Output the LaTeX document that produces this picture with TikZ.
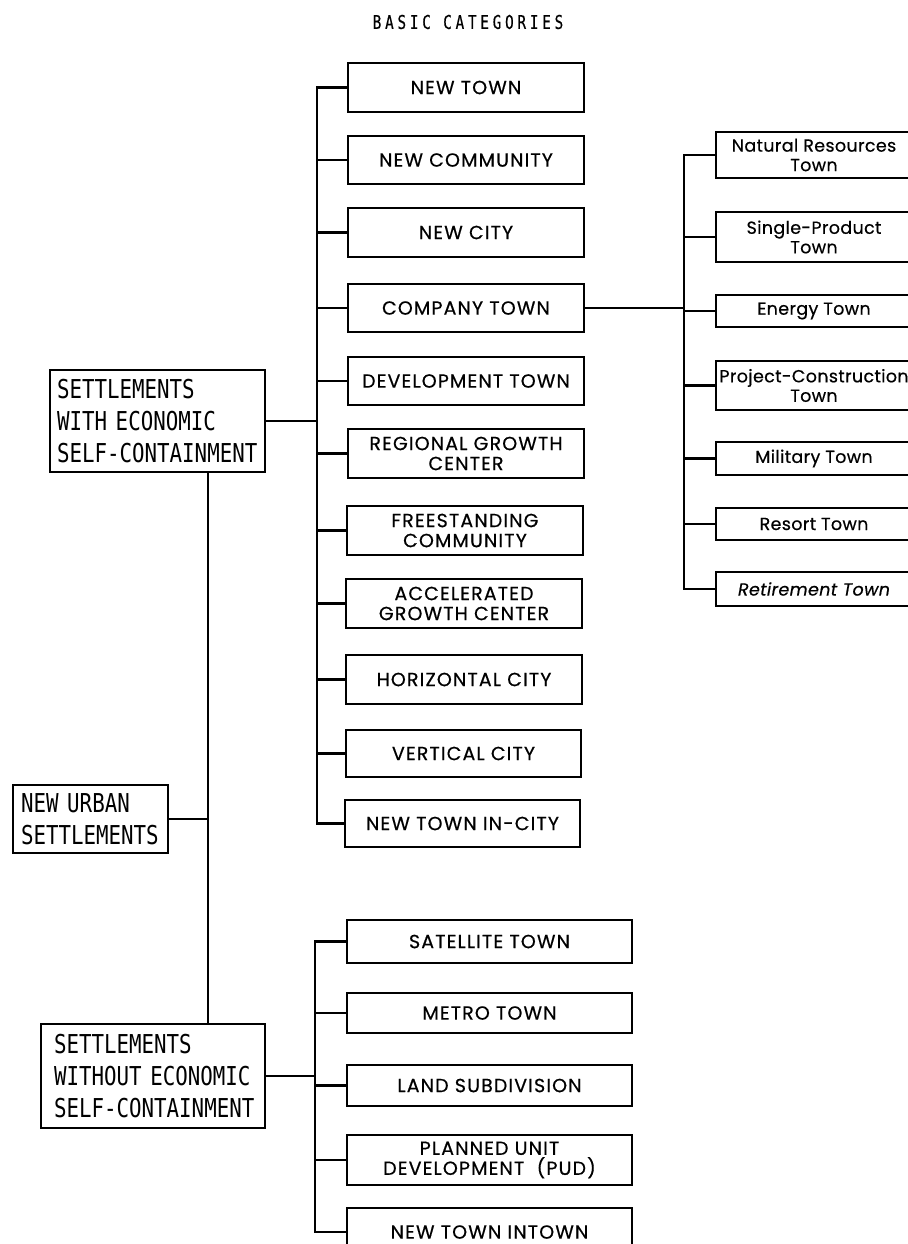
\documentclass[tikz,border=0pt]{standalone}
\usepackage{fontspec}
\newfontfamily\geo[FakeBold=0.5,LetterSpace=6]{Poppins}
\newfontfamily\geothree[FakeBold=0.5,LetterSpace=2]{Poppins}
\newfontfamily\mono[FakeStretch=0.8]{DejaVu Sans Mono}
\newfontfamily\titlefont[FakeStretch=0.75,LetterSpace=20,FakeBold=0.5]{DejaVu Sans Mono}
\exhyphenpenalty=10000
\hyphenpenalty=10000
\newcommand\mkbox[7][]{\node[box,#1,minimum width={#5-#3},minimum height={#6-#4}] (#2) at ({(#3+#5)/2},{(#4+#6)/2}) {#7};}
\begin{document}
\begin{tikzpicture}[x=1pt,y=-1pt,
  box/.style={draw,line width=2.2pt,inner sep=0pt,align=center},
  c2/.style={font=\geo\fontsize{19}{20}\selectfont},
  c3/.style={font=\geothree\fontsize{17.5}{19.5}\selectfont},
  lbox/.style={font=\mono\fontsize{26}{32}\selectfont,align=left},
  wire/.style={line width=2.2pt}]
\useasboundingbox (0,0) rectangle (907,1244);
\fill[white] (0,0) rectangle (907,1244);

\node[font=\titlefont\fontsize{19}{20}\selectfont] (title) at (468,22) {BASIC CATEGORIES};

% column 2, upper group
\mkbox[c2]{nt}{348}{63}{584}{112}{NEW TOWN}
\mkbox[c2]{nc}{348}{136}{584}{184}{NEW COMMUNITY}
\mkbox[c2]{ncity}{348}{208}{584}{257}{NEW CITY}
\mkbox[c2]{ct}{348}{284}{584}{332}{COMPANY TOWN}
\mkbox[c2]{dt}{348}{357}{584}{405}{DEVELOPMENT TOWN}
\mkbox[c2]{rg}{348}{429}{584}{478}{REGIONAL GROWTH\\CENTER}
\mkbox[c2]{fc}{347}{506}{583}{555}{FREESTANDING\\COMMUNITY}
\mkbox[c2]{ag}{346}{579}{582}{628}{ACCELERATED\\GROWTH CENTER}
\mkbox[c2]{hc}{346}{655}{582}{704}{HORIZONTAL CITY}
\mkbox[c2]{vc}{346}{730}{581}{777}{VERTICAL CITY}
\mkbox[c2]{ntic}{345}{800}{580}{847}{NEW TOWN IN-CITY}

% column 2, lower group
\mkbox[c2]{sat}{347}{920}{632}{963}{SATELLITE TOWN}
\mkbox[c2]{met}{347}{993}{632}{1033}{METRO TOWN}
\mkbox[c2]{land}{347}{1065}{632}{1106}{LAND SUBDIVISION}
\mkbox[c2]{pud}{347}{1135}{632}{1185}{PLANNED UNIT\\DEVELOPMENT\ \ (PUD)}
\mkbox[c2]{nti}{347}{1208}{632}{1256}{NEW TOWN INTOWN}

% column 3
\mkbox[c3]{nr}{716}{132}{912}{178}{Natural Resources\\Town}
\mkbox[c3]{sp}{716}{212}{912}{262}{Single-Product\\Town}
\mkbox[c3]{et}{716}{295}{912}{327}{Energy Town}
\mkbox[c3]{pc}{716}{361}{912}{410}{Project-Construction\\Town}
\mkbox[c3]{mt}{716}{442}{912}{475}{Military Town}
\mkbox[c3]{rt}{716}{508}{912}{540}{Resort Town}
\mkbox[c3]{ret}{716}{572}{912}{606}{\itshape Retirement Town}

% left boxes
\mkbox[lbox,text width=201]{with}{50}{370}{265}{472}{SETTLEMENTS\\WITH ECONOMIC\\SELF-CONTAINMENT}
\mkbox[lbox,text width=139]{nus}{13}{785}{168}{853}{NEW URBAN\\SETTLEMENTS}
\mkbox[lbox,text width=198]{without}{41}{1024}{265}{1128}{SETTLEMENTS\\WITHOUT ECONOMIC\\SELF-CONTAINMENT}

% connectors
\coordinate (b2) at (317,0);
\coordinate (b3) at (684,0);
\coordinate (b4) at (315,0);
\coordinate (vl) at (208,0);

\draw[wire] (nt.west) -- (nt.west -| b2) -- (ntic.west -| b2) -- (ntic.west);
\foreach \n in {nc,ncity,ct,dt,rg,fc,ag,hc,vc} \draw[wire] (\n.west) -- (\n.west -| b2);
\draw[wire] (with.east) -- (with.east -| b2);

\draw[wire] (nr.west) -- (nr.west -| b3) -- (ret.west -| b3) -- (ret.west);
\foreach \n in {sp,et,pc,mt,rt} \draw[wire] (\n.west) -- (\n.west -| b3);
\draw[wire] (ct.east) -- (ct.east -| b3);

\draw[wire] (sat.west) -- (sat.west -| b4) -- (nti.west -| b4) -- (nti.west);
\foreach \n in {met,land,pud} \draw[wire] (\n.west) -- (\n.west -| b4);
\draw[wire] (without.east) -- (without.east -| b4);

\draw[wire] (with.south -| vl) -- (without.north -| vl);
\draw[wire] (nus.east) -- (nus.east -| vl);
\end{tikzpicture}
\end{document}
